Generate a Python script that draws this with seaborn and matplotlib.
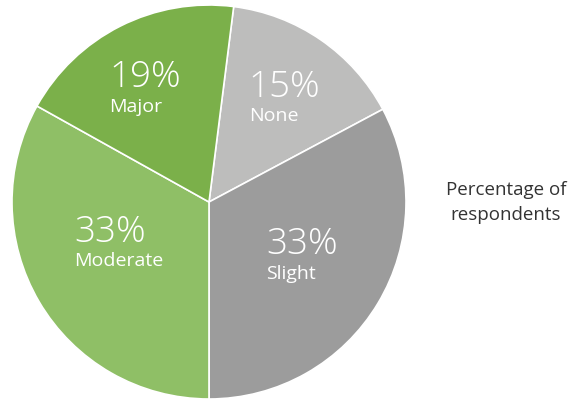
import numpy as np
import seaborn as sns
import matplotlib.pyplot as plt
from matplotlib.offsetbox import TextArea, VPacker, AnnotationBbox

sns.set_theme(style="white")
plt.rcParams["font.family"] = ["Open Sans", "DejaVu Sans"]

categories = ["None", "Slight", "Moderate", "Major"]
shares = [15.2, 32.8, 33.1, 18.9]
colors = ["#bdbdbc", "#9c9c9c", "#8fbf66", "#7bb04a"]
# label placement: distance from centre and turn (degrees) from the wedge middle
label_radius = [0.66, 0.54, 0.50, 0.67]
label_turn = [-1, 2, -7, 2]

fig = plt.figure(figsize=(5.81, 4.02), dpi=100)
ax = fig.add_axes([12 / 581, 2 / 402, 394 / 581, 394 / 402])

wedges, _ = ax.pie(shares, colors=colors, startangle=82.8, counterclock=False,
                   wedgeprops=dict(edgecolor="white", linewidth=1.2))
ax.set_xlim(-1, 1)
ax.set_ylim(-1, 1)
ax.set_aspect("equal")

for w, cat, share, r, t in zip(wedges, categories, shares, label_radius, label_turn):
    mid = np.deg2rad((w.theta1 + w.theta2) / 2 + t)
    pos = (r * np.cos(mid), r * np.sin(mid))
    pct = TextArea(f"{share:.0f}%", textprops=dict(color="white", fontsize=26.5, fontweight="light"))
    name = TextArea(cat, textprops=dict(color="white", fontsize=14))
    box = VPacker(children=[pct, name], align="left", pad=0, sep=1)
    ax.add_artist(AnnotationBbox(box, pos, frameon=False, box_alignment=(0.5, 0.5)))

fig.text(506 / 581, 1 - 203 / 402, "Percentage of\nrespondents", ha="center", va="center",
         fontsize=13.5, color="#333333", linespacing=1.5)

fig.savefig("out.png", dpi=100)
